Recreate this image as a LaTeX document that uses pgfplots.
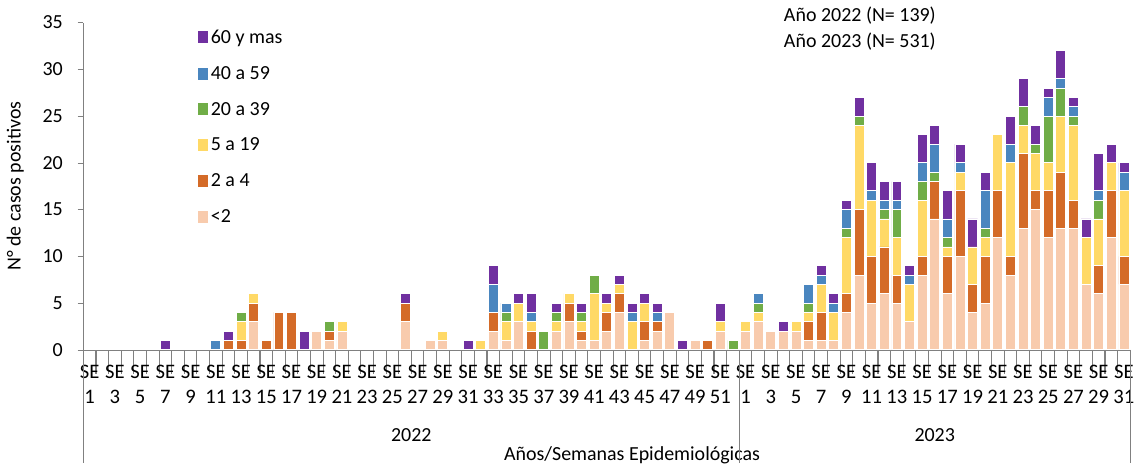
\documentclass[border=0pt]{standalone}
\usepackage{pgfplots}
\pgfplotsset{compat=1.18}
\usepackage{pgfplotstable}
\usepackage{fontspec}
\setmainfont{Carlito}
\definecolor{cA}{HTML}{F8CBAD}
\definecolor{cB}{HTML}{D46B28}
\definecolor{cC}{HTML}{FFD966}
\definecolor{cD}{HTML}{70AD47}
\definecolor{cE}{HTML}{4A86BF}
\definecolor{cF}{HTML}{7030A0}
\pgfplotstableread{
x l o y g b p
0 0 0 0 0 0 0
1 0 0 0 0 0 0
2 0 0 0 0 0 0
3 0 0 0 0 0 0
4 0 0 0 0 0 0
5 0 0 0 0 0 0
6 0 0 0 0 0 1
7 0 0 0 0 0 0
8 0 0 0 0 0 0
9 0 0 0 0 0 0
10 0 0 0 0 1 0
11 0 1 0 0 0 1
12 0 1 2 1 0 0
13 3 2 1 0 0 0
14 0 1 0 0 0 0
15 0 4 0 0 0 0
16 0 4 0 0 0 0
17 0 0 0 0 0 2
18 2 0 0 0 0 0
19 1 1 0 1 0 0
20 2 0 1 0 0 0
21 0 0 0 0 0 0
22 0 0 0 0 0 0
23 0 0 0 0 0 0
24 0 0 0 0 0 0
25 3 2 0 0 0 1
26 0 0 0 0 0 0
27 1 0 0 0 0 0
28 1 0 1 0 0 0
29 0 0 0 0 0 0
30 0 0 0 0 0 1
31 0 0 1 0 0 0
32 2 2 0 0 3 2
33 1 0 2 1 1 0
34 3 0 2 0 0 1
35 0 2 1 0 1 2
36 0 0 0 2 0 0
37 2 0 1 1 0 1
38 3 2 1 0 0 0
39 1 1 1 1 0 1
40 1 0 5 2 0 0
41 2 2 1 0 0 1
42 4 2 1 0 0 1
43 0 0 3 0 1 1
44 1 2 2 0 0 1
45 2 1 0 0 1 1
46 4 0 0 0 0 0
47 0 0 0 0 0 1
48 1 0 0 0 0 0
49 0 1 0 0 0 0
50 2 0 1 0 0 2
51 0 0 0 1 0 0
52 2 0 1 0 0 0
53 3 0 1 1 1 0
54 2 0 0 0 0 0
55 2 0 0 0 0 1
56 2 0 1 0 0 0
57 1 2 1 1 2 0
58 1 3 3 0 1 1
59 1 0 3 0 1 1
60 4 2 6 1 2 1
61 8 7 9 1 0 2
62 5 5 6 0 1 3
63 6 5 3 1 1 2
64 5 3 4 3 1 2
65 3 0 4 0 1 1
66 8 2 6 2 2 3
67 14 4 0 1 3 2
68 6 4 1 1 2 3
69 10 7 2 0 1 2
70 4 3 4 0 0 3
71 5 5 2 1 4 2
72 12 5 6 0 0 0
73 8 2 10 0 2 3
74 13 8 3 2 0 3
75 15 2 4 1 0 2
76 12 5 3 5 2 1
77 13 6 6 3 1 3
78 13 3 8 1 1 1
79 7 0 5 0 0 2
80 6 3 5 2 1 4
81 12 5 3 0 0 2
82 7 3 7 0 2 1
}\data
\begin{document}
\fontsize{15}{18}\selectfont
\begin{tikzpicture}
\begin{axis}[
  scale only axis, width=787pt, height=246pt,
  ybar stacked, bar width=7.5pt,
  ymin=0, ymax=35, ytick={0,5,...,35},
  xmin=-0.5, xmax=82.5,
  /pgf/number format/assume math mode=true,
  axis line style={gray}, axis x line*=bottom, axis y line*=left,
  tick align=outside, major y tick style={gray},
  xtick={0,2,...,50,52,54,...,82},
  xticklabels={{SE\\1},{SE\\3},{SE\\5},{SE\\7},{SE\\9},{SE\\11},{SE\\13},{SE\\15},{SE\\17},{SE\\19},{SE\\21},{SE\\23},{SE\\25},{SE\\27},{SE\\29},{SE\\31},{SE\\33},{SE\\35},{SE\\37},{SE\\39},{SE\\41},{SE\\43},{SE\\45},{SE\\47},{SE\\49},{SE\\51},{SE\\1},{SE\\3},{SE\\5},{SE\\7},{SE\\9},{SE\\11},{SE\\13},{SE\\15},{SE\\17},{SE\\19},{SE\\21},{SE\\23},{SE\\25},{SE\\27},{SE\\29},{SE\\31}},
  xticklabel style={align=center, yshift=-2pt, font=\fontsize{15.5}{18.5}\selectfont},
  major x tick style={draw=none},
  minor xtick={-0.5,0.5,...,82.5},
  minor x tick style={gray, thick},
  minor tick length=18pt,
  yticklabel style={font=\fontsize{15}{18}\selectfont, xshift=-6pt},
  ylabel={N° de casos positivos},
  ylabel style={yshift=4pt},
  every axis plot/.append style={draw=white, line width=0.6pt},
  legend cell align=left,
  reverse legend,
  legend style={draw=none, fill=none, at={(0.105,0.995)}, anchor=north west, row sep=11pt, font=\fontsize{15}{18}\selectfont},
  legend image code/.code={\fill[#1, draw=none] (0pt,-4pt) rectangle (8pt,5pt);},
  clip=false,
]
\addplot[fill=cA] table[x=x,y=l]{\data}; \addlegendentry{<2}
\addplot[fill=cB] table[x=x,y=o]{\data}; \addlegendentry{2 a 4}
\addplot[fill=cC] table[x=x,y=y]{\data}; \addlegendentry{5 a 19}
\addplot[fill=cD] table[x=x,y=g]{\data}; \addlegendentry{20 a 39}
\addplot[fill=cE] table[x=x,y=b]{\data}; \addlegendentry{40 a 59}
\addplot[fill=cF] table[x=x,y=p]{\data}; \addlegendentry{60 y mas}
\draw[gray, thick] (axis cs:-0.5,0) -- ([yshift=-85pt]axis cs:-0.5,0);
\draw[gray, thick] (axis cs:51.5,0) -- ([yshift=-85pt]axis cs:51.5,0);
\draw[gray, thick] (axis cs:82.5,0) -- ([yshift=-85pt]axis cs:82.5,0);
\node[anchor=base] at ([yshift=-69pt]axis cs:25.5,0) {2022};
\node[anchor=base] at ([yshift=-69pt]axis cs:67,0) {2023};
\node[anchor=base] at ([yshift=-83pt]axis cs:43,0) {Años/Semanas Epidemiológicas};
\node[anchor=base west] at ([yshift=1pt]axis cs:54.5,35) {Año 2022 (N= 139)};
\node[anchor=base west] at ([yshift=-18.5pt]axis cs:54.5,35) {Año 2023 (N= 531)};
\end{axis}
\end{tikzpicture}
\end{document}
